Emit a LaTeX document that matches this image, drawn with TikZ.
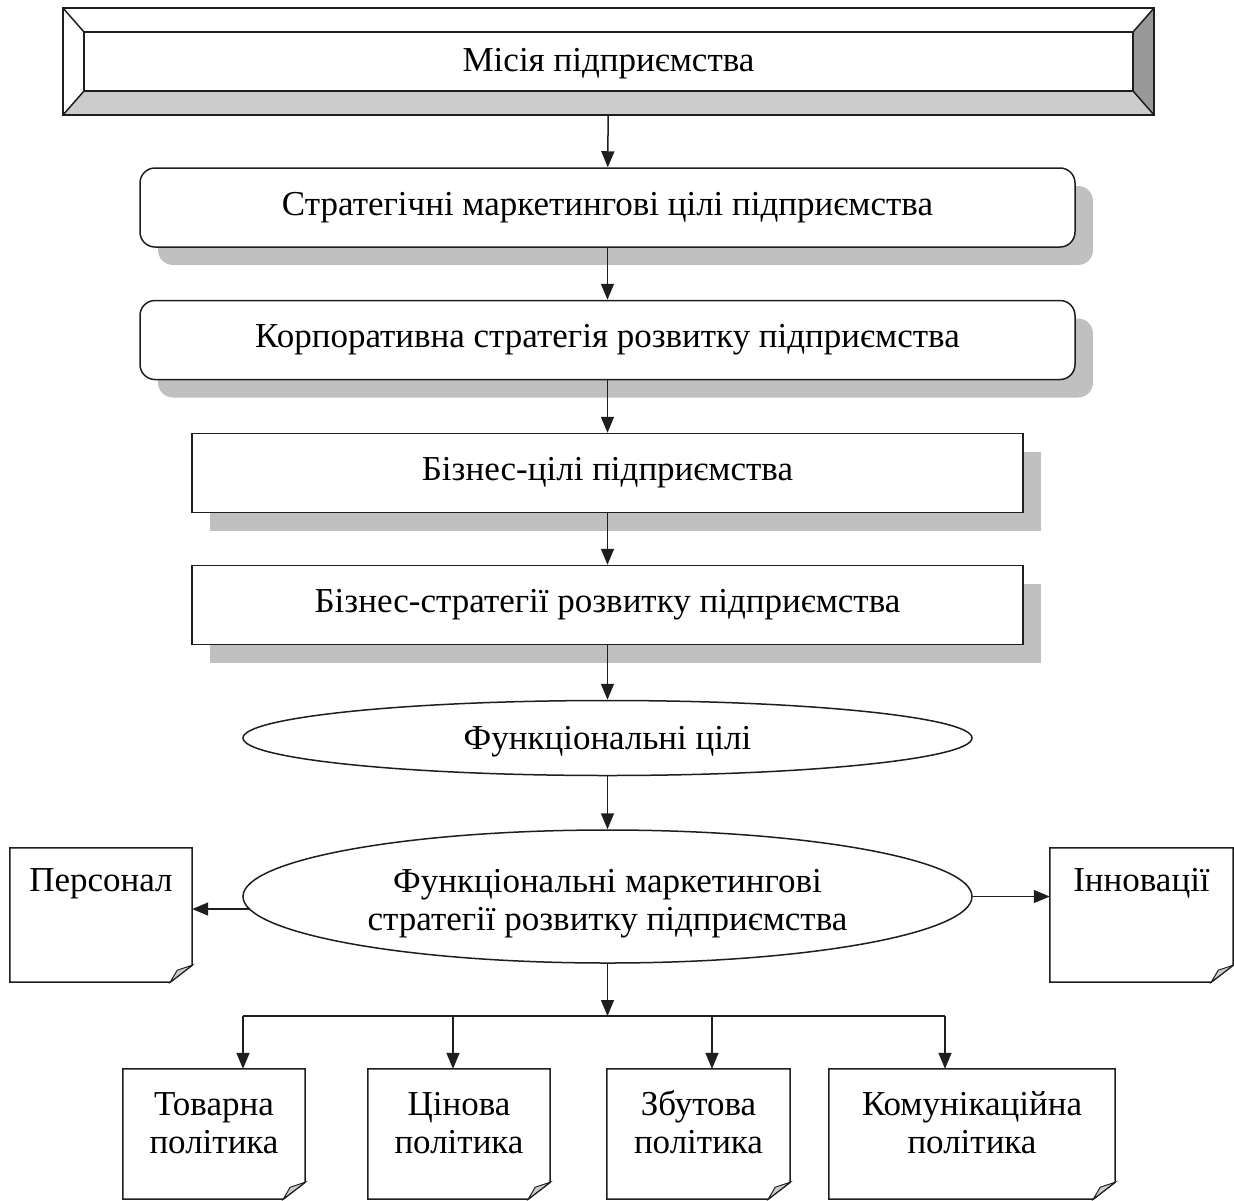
\documentclass[tikz,border=0pt]{standalone}
\usepackage{fontspec}
\setmainfont{Liberation Serif}
\usetikzlibrary{shapes.geometric, arrows.meta, positioning, shadows, calc}
\definecolor{edgegray}{RGB}{30, 30, 30}
\definecolor{shadowgray}{RGB}{192, 192, 192}
\definecolor{bevellight}{RGB}{204, 204, 204}
\definecolor{beveldark}{RGB}{153, 153, 153}

\begin{document}
\begin{tikzpicture}[x=1pt, y=-1pt,
    every node/.style={font=\fontsize{35}{38}\selectfont, inner sep=0pt},
    line/.style={draw=edgegray, line width=1.5pt},
    link/.style={line, -{Triangle[length=16pt, width=13pt]}},
    shade/.style={drop shadow={shadow xshift=18pt, shadow yshift=-18pt, fill=shadowgray, opacity=1}},
    roundbox/.style={line, fill=white, rounded corners=15pt, shade, minimum width=935, minimum height=79},
    plainbox/.style={line, fill=white, shade, minimum width=831, minimum height=79},
    oval/.style={ellipse, line, fill=white, minimum width=729, align=center},
    notebox/.style={rectangle, align=center}]
    \useasboundingbox (0,0) rectangle (1234,1200);
    % mission with bevel frame
    \node[minimum width=1091, minimum height=107, text height=32pt, text depth=12pt] (mis) at (608.5,61.5) {Місія підприємства};
    \fill[bevellight] (mis.south west) -- (mis.south east) -- ([xshift=-21pt,yshift=24pt]mis.south east) -- ([xshift=21pt,yshift=24pt]mis.south west) -- cycle;
    \fill[beveldark] (mis.south east) -- (mis.north east) -- ([xshift=-21pt,yshift=-24pt]mis.north east) -- ([xshift=-21pt,yshift=24pt]mis.south east) -- cycle;
    \draw[line] (mis.south west) rectangle (mis.north east);
    \draw[line] ([xshift=21pt,yshift=-24pt]mis.north west) rectangle ([xshift=-21pt,yshift=24pt]mis.south east);
    \draw[line] (mis.north west) -- ([xshift=21pt,yshift=-24pt]mis.north west);
    \draw[line] (mis.south west) -- ([xshift=21pt,yshift=24pt]mis.south west);
    \draw[line] (mis.north east) -- ([xshift=-21pt,yshift=-24pt]mis.north east);
    \draw[line] (mis.south east) -- ([xshift=-21pt,yshift=24pt]mis.south east);
    % goals and strategies
    \node[roundbox] (goal) at (607.5,207.5) {Стратегічні маркетингові цілі підприємства};
    \node[roundbox] (corp) at (607.5,340) {Корпоративна стратегія розвитку підприємства};
    \node[plainbox] (bgoal) at (607.5,473) {Бізнес-цілі підприємства};
    \node[plainbox] (bstrat) at (607.5,605) {Бізнес-стратегії розвитку підприємства};
    \node[oval, minimum height=75, text height=30pt, text depth=8pt] (fgoal) at (607.5,738) {Функціональні цілі};
    \node[oval, minimum height=133, text height=77pt, text depth=10pt] (fstrat) at (607.5,896.5) {Функціональні маркетингові\\стратегії розвитку підприємства};
    % side and bottom notes
    \node[notebox, minimum width=182, text height=43pt, text depth=91pt] (pers) at (101,915) {Персонал};
    \node[notebox, minimum width=183, text height=43pt, text depth=91pt] (innov) at (1141.5,915) {Інновації};
    \node[notebox, minimum width=182, text height=84pt, text depth=46pt] (goods) at (214,1134) {Товарна\\політика};
    \node[notebox, minimum width=182, text height=84pt, text depth=46pt] (price) at (459,1134) {Цінова\\політика};
    \node[notebox, minimum width=183, text height=84pt, text depth=46pt] (sales) at (698.5,1134) {Збутова\\політика};
    \node[notebox, minimum width=286, text height=84pt, text depth=46pt] (comm) at (972,1134) {Комунікаційна\\політика};
    \foreach \n in {pers, innov, goods, price, sales, comm} {
        \draw[line] (\n.north west) -- (\n.north east) -- ([yshift=17pt]\n.south east) -- ([xshift=-22pt]\n.south east) -- (\n.south west) -- cycle;
        \draw[line, fill=bevellight, line width=1pt] ([yshift=17pt]\n.south east) -- ([xshift=-22pt]\n.south east) -- ([xshift=-15pt,yshift=12pt]\n.south east) -- cycle;
    }
    % vertical chain
    \draw[link] (mis) -- (goal);
    \draw[link] (goal) -- (corp);
    \draw[link] (corp) -- (bgoal);
    \draw[link] (bgoal) -- (bstrat);
    \draw[link] (bstrat) -- (fgoal);
    \draw[link] (fgoal) -- (fstrat);
    \draw[link] (fstrat.182) -- (fstrat.182 -| pers.east);
    \draw[link] (fstrat.east) -- (fstrat.east -| innov.west);
    % branching to policies
    \coordinate (hub) at (607.5,1016);
    \coordinate (b1) at (243,1016);
    \coordinate (b2) at (453,1016);
    \coordinate (b3) at (712,1016);
    \coordinate (b4) at (945,1016);
    \draw[link] (fstrat) -- (hub);
    \draw[line] (b1) -- (b4);
    \draw[link] (b1) -- (b1 |- goods.north);
    \draw[link] (b2) -- (b2 |- price.north);
    \draw[link] (b3) -- (b3 |- sales.north);
    \draw[link] (b4) -- (b4 |- comm.north);
\end{tikzpicture}
\end{document}
